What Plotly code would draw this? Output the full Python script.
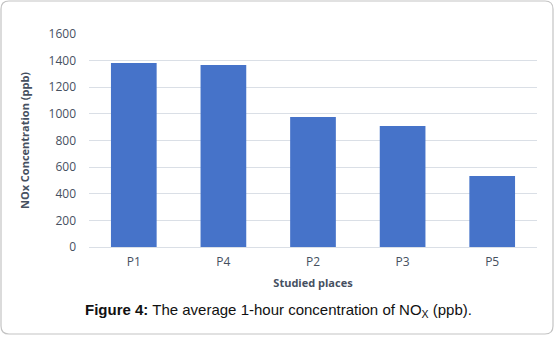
import plotly.graph_objects as go

categories = ["P1", "P4", "P2", "P3", "P5"]
values = [1382, 1367, 977, 909, 533]
y_ticks = [0, 200, 400, 600, 800, 1000, 1200, 1400, 1600]

W, H = 556, 337
L, R, T, B = 89, 19, 34, 90
pw, ph = W - L - R, H - T - B

def px(x):
    return (x - L) / pw

def py(y):
    return (H - B - y) / ph

tick_font = dict(family="Open Sans, Noto Sans, sans-serif", size=12, color="#46505f")
title_font = dict(family="Open Sans, Noto Sans, sans-serif", size=11, color="#46505f")

fig = go.Figure(go.Bar(
    x=categories, y=values,
    marker=dict(color="#4673C9", line=dict(width=0)),
    width=0.51,
))

# rounded frame
x0, x1, y0, y1, r = 1, 553, 1, 334, 8
rx, ry = r / pw, r / ph
path = (f"M {px(x0)+rx},{py(y0)} L {px(x1)-rx},{py(y0)} Q {px(x1)},{py(y0)} {px(x1)},{py(y0)-ry} "
        f"L {px(x1)},{py(y1)+ry} Q {px(x1)},{py(y1)} {px(x1)-rx},{py(y1)} "
        f"L {px(x0)+rx},{py(y1)} Q {px(x0)},{py(y1)} {px(x0)},{py(y1)+ry} "
        f"L {px(x0)},{py(y0)-ry} Q {px(x0)},{py(y0)} {px(x0)+rx},{py(y0)} Z")

fig.update_layout(
    width=W, height=H,
    margin=dict(l=L, r=R, t=T, b=B),
    paper_bgcolor="white", plot_bgcolor="white",
    showlegend=False,
    xaxis=dict(
        tickfont=tick_font, showgrid=False, zeroline=False, showline=False,
        ticks="", ticklabelstandoff=6,
        title=dict(text="<b>Studied places</b>", font=title_font, standoff=10),
    ),
    yaxis=dict(
        range=[0, 1600], tickvals=y_ticks, tickfont=tick_font,
        showgrid=True, gridcolor="#dadfe6", gridwidth=1.2,
        zeroline=True, zerolinecolor="#dadfe6", zerolinewidth=1.2,
        showline=False, ticks="", ticklabelstandoff=12,
        title=dict(text="<b>NOx Concentration (ppb)</b>", font=title_font, standoff=16),
    ),
    shapes=[dict(type="path", path=path, xref="paper", yref="paper",
                 line=dict(color="#c4c4c4", width=1.2), layer="below")],
    annotations=[dict(
        text="<b>Figure 4:</b> The average 1-hour concentration of NO<sub>X</sub> (ppb).",
        x=px(278), y=py(310), xref="paper", yref="paper",
        xanchor="center", yanchor="middle", showarrow=False,
        font=dict(family="Liberation Sans, Arial, sans-serif", size=15, color="#111111"),
    )],
)

fig.write_html("out.html")
